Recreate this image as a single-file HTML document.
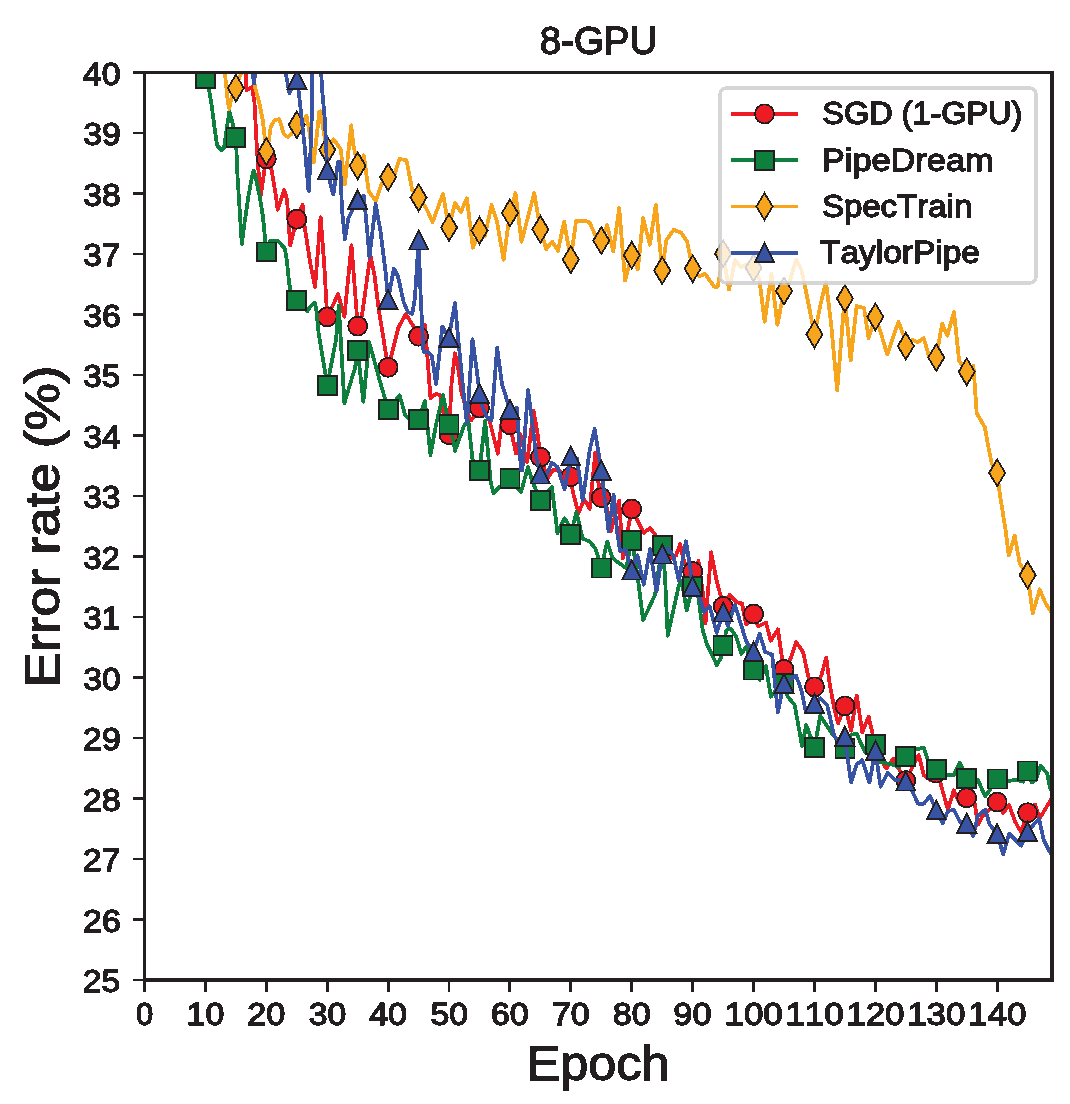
<!DOCTYPE html>
<html><head><meta charset="utf-8"><title>8-GPU</title>
<style>html,body{margin:0;padding:0;background:#fff;}svg{display:block;will-change:transform;}</style></head>
<body>
<svg width="1070" height="1104" viewBox="0 0 1070 1104" font-family="Liberation Sans, sans-serif" style="font-kerning:none" shape-rendering="crispEdges">
<rect width="1070" height="1104" fill="#ffffff"/>
<defs><filter id="al" x="-5%" y="-20%" width="110%" height="140%" color-interpolation-filters="sRGB"><feComponentTransfer><feFuncA type="discrete" tableValues="0 1"/></feComponentTransfer></filter><clipPath id="ax"><rect x="144.5" y="72.45" width="907.5" height="907.55"/></clipPath></defs>
<g clip-path="url(#ax)">
<path d="M245.6,61.3 L246.5,90.2 L252.1,87.0 L254.5,102.4 L256.4,139.8 L258.0,164.9 L260.8,195.7 L264.1,172.3 L266.3,158.9 L271.1,167.7 L275.8,194.8 L277.7,209.7 L284.2,190.1 L287.0,199.4 L290.2,245.2 L296.8,219.2 L302.6,204.6 L304.5,225.6 L310.1,262.1 L315.0,287.3 L320.6,217.2 L324.1,262.1 L327.2,316.9 L338.1,294.3 L344.4,316.7 L351.5,245.2 L357.7,326.1 L362.0,315.3 L370.4,255.0 L374.6,276.1 L378.8,309.7 L388.1,367.3 L391.2,356.1 L398.2,328.0 L405.9,314.0 L413.6,326.6 L418.6,336.2 L424.9,325.2 L427.7,360.3 L430.5,398.1 L436.1,393.9 L440.3,395.3 L444.5,419.2 L449.0,434.6 L451.5,384.1 L455.0,353.3 L458.5,370.1 L461.3,391.1 L466.9,412.2 L471.1,420.6 L479.5,408.0 L489.4,420.0 L497.8,453.6 L502.0,420.0 L509.9,424.8 L516.0,453.6 L520.2,434.0 L521.0,436.1 L526.6,461.3 L527.2,462.1 L533.6,410.8 L537.9,436.1 L540.4,457.1 L547.7,478.1 L553.3,469.7 L558.9,469.7 L564.5,478.1 L570.8,476.7 L572.9,492.2 L578.5,513.2 L584.1,499.2 L589.7,509.0 L595.3,452.9 L598.1,480.9 L601.3,497.6 L606.5,506.2 L610.8,531.4 L619.2,500.6 L622.8,558.1 L631.7,509.0 L636.8,518.9 L643.8,532.9 L650.1,528.0 L655.0,534.3 L662.2,546.0 L671.9,558.1 L676.1,555.3 L680.3,544.1 L683.1,558.1 L685.9,565.1 L692.7,571.5 L698.5,560.9 L704.1,602.1 L705.5,623.1 L711.1,552.3 L716.7,581.0 L720.9,596.5 L723.1,606.4 L729.4,595.0 L736.4,602.1 L742.0,603.5 L746.2,624.5 L753.6,614.0 L758.2,626.6 L765.9,622.4 L770.8,640.7 L777.9,629.4 L782.1,658.9 L784.0,669.4 L790.5,658.9 L796.1,642.1 L803.1,651.9 L808.7,678.5 L814.5,686.9 L821.3,675.7 L826.2,657.5 L829.7,684.1 L833.9,706.5 L838.1,723.4 L844.9,705.9 L851.1,730.7 L856.7,695.6 L862.3,732.1 L868.6,716.6 L872.2,732.1 L875.4,750.0 L877.8,753.1 L886.2,768.5 L893.2,758.7 L900.2,771.3 L905.8,780.5 L912.0,767.9 L918.7,755.1 L923.9,775.3 L929.9,779.8 L936.3,773.0 L940.4,782.8 L947.9,809.7 L953.8,790.3 L959.8,803.7 L966.7,797.8 L974.8,803.7 L977.8,824.7 L983.7,814.2 L989.7,809.7 L997.2,802.0 L1003.2,812.7 L1009.2,805.2 L1015.1,821.7 L1021.1,832.1 L1027.6,812.7 L1035.0,804.5 L1039.5,818.5 L1054.0,794.8" fill="none" stroke="#ed1c24" stroke-width="3.8" stroke-linejoin="round" stroke-linecap="square"/>
<circle cx="266.3" cy="158.9" r="9.50" fill="#ed1c24" stroke="#231f20" stroke-width="1.8"/>
<circle cx="296.8" cy="219.2" r="9.50" fill="#ed1c24" stroke="#231f20" stroke-width="1.8"/>
<circle cx="327.2" cy="316.9" r="9.50" fill="#ed1c24" stroke="#231f20" stroke-width="1.8"/>
<circle cx="357.7" cy="326.1" r="9.50" fill="#ed1c24" stroke="#231f20" stroke-width="1.8"/>
<circle cx="388.1" cy="367.3" r="9.50" fill="#ed1c24" stroke="#231f20" stroke-width="1.8"/>
<circle cx="418.6" cy="336.2" r="9.50" fill="#ed1c24" stroke="#231f20" stroke-width="1.8"/>
<circle cx="449.0" cy="434.6" r="9.50" fill="#ed1c24" stroke="#231f20" stroke-width="1.8"/>
<circle cx="479.5" cy="408.0" r="9.50" fill="#ed1c24" stroke="#231f20" stroke-width="1.8"/>
<circle cx="509.9" cy="424.8" r="9.50" fill="#ed1c24" stroke="#231f20" stroke-width="1.8"/>
<circle cx="540.4" cy="457.1" r="9.50" fill="#ed1c24" stroke="#231f20" stroke-width="1.8"/>
<circle cx="570.8" cy="476.7" r="9.50" fill="#ed1c24" stroke="#231f20" stroke-width="1.8"/>
<circle cx="601.3" cy="497.6" r="9.50" fill="#ed1c24" stroke="#231f20" stroke-width="1.8"/>
<circle cx="631.7" cy="509.0" r="9.50" fill="#ed1c24" stroke="#231f20" stroke-width="1.8"/>
<circle cx="662.2" cy="546.0" r="9.50" fill="#ed1c24" stroke="#231f20" stroke-width="1.8"/>
<circle cx="692.7" cy="571.5" r="9.50" fill="#ed1c24" stroke="#231f20" stroke-width="1.8"/>
<circle cx="723.1" cy="606.4" r="9.50" fill="#ed1c24" stroke="#231f20" stroke-width="1.8"/>
<circle cx="753.6" cy="614.0" r="9.50" fill="#ed1c24" stroke="#231f20" stroke-width="1.8"/>
<circle cx="784.0" cy="669.4" r="9.50" fill="#ed1c24" stroke="#231f20" stroke-width="1.8"/>
<circle cx="814.5" cy="686.9" r="9.50" fill="#ed1c24" stroke="#231f20" stroke-width="1.8"/>
<circle cx="844.9" cy="705.9" r="9.50" fill="#ed1c24" stroke="#231f20" stroke-width="1.8"/>
<circle cx="875.4" cy="750.0" r="9.50" fill="#ed1c24" stroke="#231f20" stroke-width="1.8"/>
<circle cx="905.8" cy="780.5" r="9.50" fill="#ed1c24" stroke="#231f20" stroke-width="1.8"/>
<circle cx="936.3" cy="773.0" r="9.50" fill="#ed1c24" stroke="#231f20" stroke-width="1.8"/>
<circle cx="966.7" cy="797.8" r="9.50" fill="#ed1c24" stroke="#231f20" stroke-width="1.8"/>
<circle cx="997.2" cy="802.0" r="9.50" fill="#ed1c24" stroke="#231f20" stroke-width="1.8"/>
<circle cx="1027.6" cy="812.7" r="9.50" fill="#ed1c24" stroke="#231f20" stroke-width="1.8"/>
<path d="M203.1,59.4 L205.4,78.5 L208.7,87.4 L211.5,104.3 L214.3,125.7 L217.1,145.4 L221.8,150.5 L224.1,147.2 L229.3,111.7 L232.1,121.1 L235.9,137.9 L237.5,176.1 L240.3,220.0 L241.8,243.9 L244.2,225.2 L248.3,196.7 L252.4,174.7 L253.8,170.6 L256.4,180.4 L259.7,196.7 L263.0,217.0 L266.3,251.9 L270.1,241.0 L277.9,240.7 L284.9,248.7 L287.0,262.1 L289.1,283.1 L290.5,290.1 L296.8,300.3 L307.3,311.1 L310.1,306.9 L315.0,302.7 L316.4,311.1 L318.5,332.2 L325.5,374.3 L327.2,385.1 L336.0,340.0 L338.8,305.5 L344.4,403.1 L355.0,368.0 L357.7,350.9 L363.4,401.7 L369.1,342.0 L380.2,382.1 L388.1,409.4 L399.6,395.3 L405.2,415.0 L408.0,417.8 L418.6,419.2 L424.9,400.9 L430.5,455.0 L436.1,424.2 L443.1,395.3 L449.0,424.8 L452.9,438.2 L455.0,450.8 L464.1,425.6 L468.3,420.6 L472.5,459.3 L479.5,470.5 L485.1,420.6 L490.8,483.1 L493.6,492.9 L499.2,487.3 L509.9,478.2 L521.0,492.2 L528.0,466.9 L532.2,480.9 L540.4,500.7 L551.9,486.8 L557.5,533.1 L564.5,518.4 L568.7,524.7 L570.8,534.2 L576.4,512.1 L582.7,538.7 L589.7,541.5 L595.3,548.5 L598.1,556.9 L601.3,568.1 L607.2,541.5 L612.2,556.9 L616.4,561.1 L626.2,568.1 L631.7,540.3 L634.0,552.5 L638.2,581.0 L643.1,620.3 L655.0,595.0 L662.2,545.5 L664.9,574.0 L667.7,635.7 L678.9,585.2 L681.7,581.0 L686.6,610.5 L692.7,586.7 L698.5,597.9 L702.7,630.1 L706.9,644.1 L712.5,655.3 L716.7,665.1 L720.9,658.1 L723.1,645.5 L726.5,630.1 L730.8,628.7 L736.4,637.1 L741.3,653.9 L746.2,646.9 L753.6,670.1 L759.6,679.9 L765.9,665.9 L770.8,696.7 L776.5,689.7 L784.0,683.4 L787.7,696.7 L794.7,705.1 L802.1,746.1 L806.3,725.0 L814.5,747.3 L820.3,715.9 L827.3,726.5 L832.9,734.9 L844.9,748.2 L851.1,734.9 L856.7,733.5 L860.9,743.3 L865.1,751.7 L875.4,744.6 L880.6,762.2 L891.8,764.3 L898.8,767.1 L905.8,756.5 L916.4,749.2 L923.9,747.7 L926.9,757.4 L929.9,764.9 L936.3,769.3 L944.9,775.3 L953.8,775.3 L959.8,762.6 L966.7,778.3 L977.8,779.8 L985.2,796.3 L989.7,790.3 L997.2,779.1 L1007.7,781.3 L1015.1,779.8 L1023.4,781.6 L1027.6,771.1 L1031.6,782.5 L1036.1,779.8 L1040.6,765.6 L1047.3,773.8 L1050.3,788.8 L1054.0,794.8" fill="none" stroke="#0f7f3e" stroke-width="3.8" stroke-linejoin="round" stroke-linecap="square"/>
<rect x="195.9" y="69.0" width="19.0" height="19.0" fill="#0f7f3e" stroke="#231f20" stroke-width="1.8"/>
<rect x="226.4" y="128.4" width="19.0" height="19.0" fill="#0f7f3e" stroke="#231f20" stroke-width="1.8"/>
<rect x="256.8" y="242.4" width="19.0" height="19.0" fill="#0f7f3e" stroke="#231f20" stroke-width="1.8"/>
<rect x="287.3" y="290.8" width="19.0" height="19.0" fill="#0f7f3e" stroke="#231f20" stroke-width="1.8"/>
<rect x="317.7" y="375.6" width="19.0" height="19.0" fill="#0f7f3e" stroke="#231f20" stroke-width="1.8"/>
<rect x="348.2" y="341.4" width="19.0" height="19.0" fill="#0f7f3e" stroke="#231f20" stroke-width="1.8"/>
<rect x="378.6" y="399.9" width="19.0" height="19.0" fill="#0f7f3e" stroke="#231f20" stroke-width="1.8"/>
<rect x="409.1" y="409.7" width="19.0" height="19.0" fill="#0f7f3e" stroke="#231f20" stroke-width="1.8"/>
<rect x="439.5" y="415.3" width="19.0" height="19.0" fill="#0f7f3e" stroke="#231f20" stroke-width="1.8"/>
<rect x="470.0" y="461.0" width="19.0" height="19.0" fill="#0f7f3e" stroke="#231f20" stroke-width="1.8"/>
<rect x="500.4" y="468.7" width="19.0" height="19.0" fill="#0f7f3e" stroke="#231f20" stroke-width="1.8"/>
<rect x="530.9" y="491.2" width="19.0" height="19.0" fill="#0f7f3e" stroke="#231f20" stroke-width="1.8"/>
<rect x="561.3" y="524.7" width="19.0" height="19.0" fill="#0f7f3e" stroke="#231f20" stroke-width="1.8"/>
<rect x="591.8" y="558.6" width="19.0" height="19.0" fill="#0f7f3e" stroke="#231f20" stroke-width="1.8"/>
<rect x="622.2" y="530.8" width="19.0" height="19.0" fill="#0f7f3e" stroke="#231f20" stroke-width="1.8"/>
<rect x="652.7" y="536.0" width="19.0" height="19.0" fill="#0f7f3e" stroke="#231f20" stroke-width="1.8"/>
<rect x="683.2" y="577.2" width="19.0" height="19.0" fill="#0f7f3e" stroke="#231f20" stroke-width="1.8"/>
<rect x="713.6" y="636.0" width="19.0" height="19.0" fill="#0f7f3e" stroke="#231f20" stroke-width="1.8"/>
<rect x="744.1" y="660.6" width="19.0" height="19.0" fill="#0f7f3e" stroke="#231f20" stroke-width="1.8"/>
<rect x="774.5" y="673.9" width="19.0" height="19.0" fill="#0f7f3e" stroke="#231f20" stroke-width="1.8"/>
<rect x="805.0" y="737.8" width="19.0" height="19.0" fill="#0f7f3e" stroke="#231f20" stroke-width="1.8"/>
<rect x="835.4" y="738.7" width="19.0" height="19.0" fill="#0f7f3e" stroke="#231f20" stroke-width="1.8"/>
<rect x="865.9" y="735.1" width="19.0" height="19.0" fill="#0f7f3e" stroke="#231f20" stroke-width="1.8"/>
<rect x="896.3" y="747.0" width="19.0" height="19.0" fill="#0f7f3e" stroke="#231f20" stroke-width="1.8"/>
<rect x="926.8" y="759.8" width="19.0" height="19.0" fill="#0f7f3e" stroke="#231f20" stroke-width="1.8"/>
<rect x="957.2" y="768.8" width="19.0" height="19.0" fill="#0f7f3e" stroke="#231f20" stroke-width="1.8"/>
<rect x="987.7" y="769.6" width="19.0" height="19.0" fill="#0f7f3e" stroke="#231f20" stroke-width="1.8"/>
<rect x="1018.1" y="761.6" width="19.0" height="19.0" fill="#0f7f3e" stroke="#231f20" stroke-width="1.8"/>
<path d="M222.2,53.8 L225.0,73.4 L227.9,102.4 L229.3,108.9 L231.6,96.8 L235.9,88.1 L240.9,73.4 L244.7,53.8 L249.8,61.3 L255.4,88.4 L259.2,102.4 L262.9,121.1 L266.3,151.5 L269.0,139.8 L270.8,126.7 L274.6,120.1 L279.3,119.2 L283.9,134.2 L287.7,137.0 L291.4,134.2 L296.8,124.8 L300.7,128.6 L306.4,115.5 L309.2,130.4 L313.8,162.2 L319.4,111.7 L320.3,111.3 L323.8,132.3 L327.2,149.9 L333.6,139.3 L340.7,149.1 L344.9,184.2 L351.2,125.3 L353.3,144.9 L357.7,165.9 L363.8,155.4 L368.7,191.2 L375.7,201.0 L381.3,184.2 L388.1,177.2 L392.5,181.4 L399.5,158.9 L406.5,160.3 L412.2,189.8 L418.6,197.6 L426.2,208.0 L432.5,222.2 L443.0,193.8 L446.0,211.8 L449.0,227.5 L455.0,202.8 L460.9,211.8 L466.9,198.3 L472.9,247.7 L479.5,230.5 L484.9,235.7 L491.6,205.0 L496.8,220.7 L503.6,259.6 L509.9,213.0 L515.5,193.1 L521.5,241.7 L534.2,193.1 L540.4,229.4 L546.2,249.2 L552.1,241.7 L558.1,250.7 L564.1,221.5 L570.8,259.6 L576.1,220.7 L583.6,220.7 L589.5,222.2 L595.5,235.7 L601.3,240.6 L607.2,225.3 L613.2,251.5 L619.2,208.1 L625.1,280.7 L631.7,255.2 L637.9,269.4 L643.1,217.9 L649.8,244.8 L655.8,205.1 L662.2,270.5 L666.3,240.3 L673.7,229.8 L681.2,232.8 L687.2,241.8 L692.7,268.7 L699.2,276.2 L705.1,273.9 L714.1,286.6 L717.9,286.6 L723.1,253.7 L729.1,289.6 L735.0,259.7 L741.0,267.2 L747.0,264.2 L753.6,267.9 L759.4,279.8 L764.7,321.7 L771.4,273.8 L777.4,324.7 L784.0,291.0 L789.3,282.8 L796.1,259.6 L801.3,269.3 L805.8,290.3 L814.5,334.4 L820.7,303.7 L826.0,282.1 L831.2,324.7 L837.2,390.5 L843.2,315.7 L844.9,298.5 L850.7,360.6 L856.6,306.0 L864.1,308.2 L868.6,338.1 L875.4,316.9 L880.6,332.1 L887.3,354.6 L898.5,321.7 L903.6,335.6 L905.8,346.0 L912.0,339.8 L917.9,342.3 L923.7,338.1 L928.8,355.8 L936.3,357.5 L939.7,337.3 L942.2,323.8 L947.3,335.6 L954.0,312.1 L959.1,360.8 L966.7,371.8 L973.4,365.9 L976.7,413.0 L984.3,426.5 L984.8,427.0 L987.8,443.9 L991.8,463.9 L997.2,472.8 L999.8,493.7 L1005.8,531.6 L1008.8,555.5 L1014.7,535.6 L1019.7,563.5 L1027.6,575.1 L1032.7,613.3 L1039.7,589.4 L1045.6,603.4 L1051.6,612.3" fill="none" stroke="#f7a51c" stroke-width="3.8" stroke-linejoin="round" stroke-linecap="square"/>
<path d="M235.9,74.7 L243.9,88.1 L235.9,101.5 L227.8,88.1 Z" fill="#f7a51c" stroke="#231f20" stroke-width="1.8" stroke-linejoin="miter"/>
<path d="M266.3,138.1 L274.4,151.5 L266.3,164.9 L258.3,151.5 Z" fill="#f7a51c" stroke="#231f20" stroke-width="1.8" stroke-linejoin="miter"/>
<path d="M296.8,111.4 L304.8,124.8 L296.8,138.2 L288.7,124.8 Z" fill="#f7a51c" stroke="#231f20" stroke-width="1.8" stroke-linejoin="miter"/>
<path d="M327.2,136.5 L335.3,149.9 L327.2,163.3 L319.2,149.9 Z" fill="#f7a51c" stroke="#231f20" stroke-width="1.8" stroke-linejoin="miter"/>
<path d="M357.7,152.5 L365.7,165.9 L357.7,179.3 L349.6,165.9 Z" fill="#f7a51c" stroke="#231f20" stroke-width="1.8" stroke-linejoin="miter"/>
<path d="M388.1,163.8 L396.2,177.2 L388.1,190.6 L380.1,177.2 Z" fill="#f7a51c" stroke="#231f20" stroke-width="1.8" stroke-linejoin="miter"/>
<path d="M418.6,184.2 L426.6,197.6 L418.6,211.0 L410.5,197.6 Z" fill="#f7a51c" stroke="#231f20" stroke-width="1.8" stroke-linejoin="miter"/>
<path d="M449.0,214.1 L457.1,227.5 L449.0,240.9 L441.0,227.5 Z" fill="#f7a51c" stroke="#231f20" stroke-width="1.8" stroke-linejoin="miter"/>
<path d="M479.5,217.1 L487.5,230.5 L479.5,243.9 L471.4,230.5 Z" fill="#f7a51c" stroke="#231f20" stroke-width="1.8" stroke-linejoin="miter"/>
<path d="M509.9,199.6 L518.0,213.0 L509.9,226.4 L501.9,213.0 Z" fill="#f7a51c" stroke="#231f20" stroke-width="1.8" stroke-linejoin="miter"/>
<path d="M540.4,216.0 L548.5,229.4 L540.4,242.8 L532.3,229.4 Z" fill="#f7a51c" stroke="#231f20" stroke-width="1.8" stroke-linejoin="miter"/>
<path d="M570.8,246.2 L578.9,259.6 L570.8,273.0 L562.8,259.6 Z" fill="#f7a51c" stroke="#231f20" stroke-width="1.8" stroke-linejoin="miter"/>
<path d="M601.3,227.2 L609.4,240.6 L601.3,254.0 L593.2,240.6 Z" fill="#f7a51c" stroke="#231f20" stroke-width="1.8" stroke-linejoin="miter"/>
<path d="M631.7,241.8 L639.8,255.2 L631.7,268.6 L623.7,255.2 Z" fill="#f7a51c" stroke="#231f20" stroke-width="1.8" stroke-linejoin="miter"/>
<path d="M662.2,257.1 L670.3,270.5 L662.2,283.9 L654.1,270.5 Z" fill="#f7a51c" stroke="#231f20" stroke-width="1.8" stroke-linejoin="miter"/>
<path d="M692.7,255.3 L700.7,268.7 L692.7,282.1 L684.6,268.7 Z" fill="#f7a51c" stroke="#231f20" stroke-width="1.8" stroke-linejoin="miter"/>
<path d="M723.1,240.3 L731.2,253.7 L723.1,267.1 L715.0,253.7 Z" fill="#f7a51c" stroke="#231f20" stroke-width="1.8" stroke-linejoin="miter"/>
<path d="M753.6,254.5 L761.6,267.9 L753.6,281.3 L745.5,267.9 Z" fill="#f7a51c" stroke="#231f20" stroke-width="1.8" stroke-linejoin="miter"/>
<path d="M784.0,277.6 L792.1,291.0 L784.0,304.4 L776.0,291.0 Z" fill="#f7a51c" stroke="#231f20" stroke-width="1.8" stroke-linejoin="miter"/>
<path d="M814.5,321.0 L822.5,334.4 L814.5,347.8 L806.4,334.4 Z" fill="#f7a51c" stroke="#231f20" stroke-width="1.8" stroke-linejoin="miter"/>
<path d="M844.9,285.1 L853.0,298.5 L844.9,311.9 L836.9,298.5 Z" fill="#f7a51c" stroke="#231f20" stroke-width="1.8" stroke-linejoin="miter"/>
<path d="M875.4,303.5 L883.4,316.9 L875.4,330.3 L867.3,316.9 Z" fill="#f7a51c" stroke="#231f20" stroke-width="1.8" stroke-linejoin="miter"/>
<path d="M905.8,332.6 L913.9,346.0 L905.8,359.4 L897.8,346.0 Z" fill="#f7a51c" stroke="#231f20" stroke-width="1.8" stroke-linejoin="miter"/>
<path d="M936.3,344.1 L944.3,357.5 L936.3,370.9 L928.2,357.5 Z" fill="#f7a51c" stroke="#231f20" stroke-width="1.8" stroke-linejoin="miter"/>
<path d="M966.7,358.4 L974.8,371.8 L966.7,385.2 L958.7,371.8 Z" fill="#f7a51c" stroke="#231f20" stroke-width="1.8" stroke-linejoin="miter"/>
<path d="M997.2,459.4 L1005.2,472.8 L997.2,486.2 L989.1,472.8 Z" fill="#f7a51c" stroke="#231f20" stroke-width="1.8" stroke-linejoin="miter"/>
<path d="M1027.6,561.7 L1035.7,575.1 L1027.6,588.5 L1019.6,575.1 Z" fill="#f7a51c" stroke="#231f20" stroke-width="1.8" stroke-linejoin="miter"/>
<path d="M251.2,59.4 L254.0,83.7 L256.8,59.4 L283.0,59.4 L289.5,93.0 L296.8,79.5 L298.9,93.0 L304.8,148.0 L308.4,189.8 L309.0,191.0 L311.8,116.3 L314.2,-49.8 L320.4,59.4 L322.4,93.0 L325.0,121.1 L325.9,142.1 L327.2,170.0 L332.9,194.0 L333.5,194.0 L337.9,163.1 L338.1,162.2 L340.0,161.7 L342.1,211.0 L344.9,239.1 L348.4,218.0 L357.7,199.6 L363.8,195.6 L367.3,232.1 L369.4,257.3 L375.7,204.0 L380.6,232.1 L385.5,271.3 L388.1,299.5 L393.9,268.5 L398.1,276.9 L403.7,302.2 L407.9,312.0 L412.2,313.4 L412.2,314.0 L415.0,297.2 L418.6,240.0 L420.7,297.2 L423.5,351.9 L427.7,351.9 L431.9,356.1 L436.1,384.1 L442.4,326.6 L449.0,337.2 L455.0,302.8 L458.5,342.1 L462.7,384.1 L466.9,423.4 L472.5,339.3 L476.7,370.1 L479.5,393.2 L482.3,406.5 L486.5,416.4 L491.5,420.6 L497.1,347.7 L502.0,384.1 L509.9,409.4 L516.8,408.0 L521.0,469.7 L522.3,470.5 L528.0,389.8 L532.2,422.1 L536.5,458.5 L540.4,473.9 L546.3,475.3 L551.9,462.7 L557.5,466.9 L564.5,489.4 L570.8,455.7 L577.1,458.5 L582.7,500.6 L589.7,450.1 L594.6,429.1 L598.1,450.1 L601.3,470.4 L606.5,513.2 L608.6,531.4 L613.6,495.0 L617.1,531.4 L620.0,551.1 L625.6,549.7 L631.7,570.0 L637.5,555.3 L643.8,584.8 L650.1,549.0 L656.5,591.8 L662.2,554.0 L667.7,548.3 L673.3,555.3 L678.9,580.6 L685.9,541.3 L690.1,566.5 L692.7,586.5 L699.9,597.9 L704.1,611.9 L709.7,606.3 L716.7,632.9 L723.1,612.0 L727.9,625.9 L735.0,604.9 L740.6,623.1 L746.2,641.3 L753.6,651.8 L759.6,633.6 L765.2,651.9 L772.2,654.7 L775.0,684.1 L777.9,712.2 L782.1,691.1 L784.0,683.4 L796.1,675.7 L801.7,691.1 L805.9,712.2 L814.5,703.5 L820.3,698.4 L827.3,705.4 L834.3,736.3 L838.5,740.5 L844.9,736.2 L846.9,753.1 L851.1,782.5 L856.7,764.3 L862.3,760.1 L869.4,782.5 L875.4,750.3 L880.6,786.7 L887.6,772.7 L894.6,779.7 L905.8,781.0 L912.0,790.3 L917.9,803.7 L923.9,803.7 L929.9,796.3 L936.3,809.7 L942.6,823.2 L947.9,811.2 L953.8,809.7 L959.8,821.7 L966.7,823.2 L973.3,835.9 L977.8,815.7 L985.2,809.7 L989.7,824.7 L997.2,833.6 L1003.2,854.6 L1009.2,833.6 L1015.1,839.6 L1021.1,845.6 L1027.6,831.4 L1039.1,818.7 L1043.6,839.6 L1049.5,851.6 L1054.0,857.6" fill="none" stroke="#3953a4" stroke-width="3.8" stroke-linejoin="round" stroke-linecap="square"/>
<path d="M296.8,70.0 L306.3,89.0 L287.3,89.0 Z" fill="#3953a4" stroke="#231f20" stroke-width="1.8" stroke-linejoin="miter"/>
<path d="M327.2,160.5 L336.7,179.5 L317.7,179.5 Z" fill="#3953a4" stroke="#231f20" stroke-width="1.8" stroke-linejoin="miter"/>
<path d="M357.7,190.1 L367.2,209.1 L348.2,209.1 Z" fill="#3953a4" stroke="#231f20" stroke-width="1.8" stroke-linejoin="miter"/>
<path d="M388.1,290.0 L397.6,309.0 L378.6,309.0 Z" fill="#3953a4" stroke="#231f20" stroke-width="1.8" stroke-linejoin="miter"/>
<path d="M418.6,230.5 L428.1,249.5 L409.1,249.5 Z" fill="#3953a4" stroke="#231f20" stroke-width="1.8" stroke-linejoin="miter"/>
<path d="M449.0,327.7 L458.5,346.7 L439.5,346.7 Z" fill="#3953a4" stroke="#231f20" stroke-width="1.8" stroke-linejoin="miter"/>
<path d="M479.5,383.7 L489.0,402.7 L470.0,402.7 Z" fill="#3953a4" stroke="#231f20" stroke-width="1.8" stroke-linejoin="miter"/>
<path d="M509.9,399.9 L519.4,418.9 L500.4,418.9 Z" fill="#3953a4" stroke="#231f20" stroke-width="1.8" stroke-linejoin="miter"/>
<path d="M540.4,464.4 L549.9,483.4 L530.9,483.4 Z" fill="#3953a4" stroke="#231f20" stroke-width="1.8" stroke-linejoin="miter"/>
<path d="M570.8,446.2 L580.3,465.2 L561.3,465.2 Z" fill="#3953a4" stroke="#231f20" stroke-width="1.8" stroke-linejoin="miter"/>
<path d="M601.3,460.9 L610.8,479.9 L591.8,479.9 Z" fill="#3953a4" stroke="#231f20" stroke-width="1.8" stroke-linejoin="miter"/>
<path d="M631.7,560.5 L641.2,579.5 L622.2,579.5 Z" fill="#3953a4" stroke="#231f20" stroke-width="1.8" stroke-linejoin="miter"/>
<path d="M662.2,544.5 L671.7,563.5 L652.7,563.5 Z" fill="#3953a4" stroke="#231f20" stroke-width="1.8" stroke-linejoin="miter"/>
<path d="M692.7,577.0 L702.2,596.0 L683.2,596.0 Z" fill="#3953a4" stroke="#231f20" stroke-width="1.8" stroke-linejoin="miter"/>
<path d="M723.1,602.5 L732.6,621.5 L713.6,621.5 Z" fill="#3953a4" stroke="#231f20" stroke-width="1.8" stroke-linejoin="miter"/>
<path d="M753.6,642.3 L763.1,661.3 L744.1,661.3 Z" fill="#3953a4" stroke="#231f20" stroke-width="1.8" stroke-linejoin="miter"/>
<path d="M784.0,673.9 L793.5,692.9 L774.5,692.9 Z" fill="#3953a4" stroke="#231f20" stroke-width="1.8" stroke-linejoin="miter"/>
<path d="M814.5,694.0 L824.0,713.0 L805.0,713.0 Z" fill="#3953a4" stroke="#231f20" stroke-width="1.8" stroke-linejoin="miter"/>
<path d="M844.9,726.7 L854.4,745.7 L835.4,745.7 Z" fill="#3953a4" stroke="#231f20" stroke-width="1.8" stroke-linejoin="miter"/>
<path d="M875.4,740.8 L884.9,759.8 L865.9,759.8 Z" fill="#3953a4" stroke="#231f20" stroke-width="1.8" stroke-linejoin="miter"/>
<path d="M905.8,771.5 L915.3,790.5 L896.3,790.5 Z" fill="#3953a4" stroke="#231f20" stroke-width="1.8" stroke-linejoin="miter"/>
<path d="M936.3,800.2 L945.8,819.2 L926.8,819.2 Z" fill="#3953a4" stroke="#231f20" stroke-width="1.8" stroke-linejoin="miter"/>
<path d="M966.7,813.7 L976.2,832.7 L957.2,832.7 Z" fill="#3953a4" stroke="#231f20" stroke-width="1.8" stroke-linejoin="miter"/>
<path d="M997.2,824.1 L1006.7,843.1 L987.7,843.1 Z" fill="#3953a4" stroke="#231f20" stroke-width="1.8" stroke-linejoin="miter"/>
<path d="M1027.6,821.9 L1037.1,840.9 L1018.1,840.9 Z" fill="#3953a4" stroke="#231f20" stroke-width="1.8" stroke-linejoin="miter"/>
</g>
<path d="M144.5,71.0 L144.5,981.8" stroke="#231f20" stroke-width="2.9" fill="none"/>
<path d="M143.05,72.45 L1053.8,72.45" stroke="#231f20" stroke-width="2.9" fill="none"/>
<path d="M1052.0,71.0 L1052.0,981.8" stroke="#231f20" stroke-width="3.6" fill="none"/>
<path d="M143.05,980.0 L1053.8,980.0" stroke="#231f20" stroke-width="3.6" fill="none"/>
<line x1="132.5" y1="980.00" x2="144.5" y2="980.00" stroke="#231f20" stroke-width="2.9"/>
<text x="82.71" y="992.14" font-size="31.98" textLength="37.39" lengthAdjust="spacingAndGlyphs" fill="#231f20" stroke="#231f20" stroke-width="1.4" filter="url(#al)">25</text>
<line x1="132.5" y1="919.50" x2="144.5" y2="919.50" stroke="#231f20" stroke-width="2.9"/>
<text x="82.67" y="931.64" font-size="31.98" textLength="38.32" lengthAdjust="spacingAndGlyphs" fill="#231f20" stroke="#231f20" stroke-width="1.4" filter="url(#al)">26</text>
<line x1="132.5" y1="858.99" x2="144.5" y2="858.99" stroke="#231f20" stroke-width="2.9"/>
<text x="82.70" y="871.13" font-size="31.98" textLength="37.77" lengthAdjust="spacingAndGlyphs" fill="#231f20" stroke="#231f20" stroke-width="1.4" filter="url(#al)">27</text>
<line x1="132.5" y1="798.49" x2="144.5" y2="798.49" stroke="#231f20" stroke-width="2.9"/>
<text x="82.68" y="810.63" font-size="31.98" textLength="38.11" lengthAdjust="spacingAndGlyphs" fill="#231f20" stroke="#231f20" stroke-width="1.4" filter="url(#al)">28</text>
<line x1="132.5" y1="737.99" x2="144.5" y2="737.99" stroke="#231f20" stroke-width="2.9"/>
<text x="82.68" y="750.13" font-size="31.98" textLength="38.19" lengthAdjust="spacingAndGlyphs" fill="#231f20" stroke="#231f20" stroke-width="1.4" filter="url(#al)">29</text>
<line x1="132.5" y1="677.48" x2="144.5" y2="677.48" stroke="#231f20" stroke-width="2.9"/>
<text x="83.22" y="689.62" font-size="31.98" textLength="37.47" lengthAdjust="spacingAndGlyphs" fill="#231f20" stroke="#231f20" stroke-width="1.4" filter="url(#al)">30</text>
<line x1="132.5" y1="616.98" x2="144.5" y2="616.98" stroke="#231f20" stroke-width="2.9"/>
<text x="83.23" y="629.12" font-size="31.98" textLength="36.92" lengthAdjust="spacingAndGlyphs" fill="#231f20" stroke="#231f20" stroke-width="1.4" filter="url(#al)">31</text>
<line x1="132.5" y1="556.48" x2="144.5" y2="556.48" stroke="#231f20" stroke-width="2.9"/>
<text x="83.24" y="568.62" font-size="31.98" textLength="36.70" lengthAdjust="spacingAndGlyphs" fill="#231f20" stroke="#231f20" stroke-width="1.4" filter="url(#al)">32</text>
<line x1="132.5" y1="495.97" x2="144.5" y2="495.97" stroke="#231f20" stroke-width="2.9"/>
<text x="83.23" y="508.11" font-size="31.98" textLength="37.17" lengthAdjust="spacingAndGlyphs" fill="#231f20" stroke="#231f20" stroke-width="1.4" filter="url(#al)">33</text>
<line x1="132.5" y1="435.47" x2="144.5" y2="435.47" stroke="#231f20" stroke-width="2.9"/>
<text x="83.22" y="447.61" font-size="31.98" textLength="37.47" lengthAdjust="spacingAndGlyphs" fill="#231f20" stroke="#231f20" stroke-width="1.4" filter="url(#al)">34</text>
<line x1="132.5" y1="374.97" x2="144.5" y2="374.97" stroke="#231f20" stroke-width="2.9"/>
<text x="83.24" y="387.11" font-size="31.98" textLength="36.85" lengthAdjust="spacingAndGlyphs" fill="#231f20" stroke="#231f20" stroke-width="1.4" filter="url(#al)">35</text>
<line x1="132.5" y1="314.46" x2="144.5" y2="314.46" stroke="#231f20" stroke-width="2.9"/>
<text x="83.21" y="326.60" font-size="31.98" textLength="37.76" lengthAdjust="spacingAndGlyphs" fill="#231f20" stroke="#231f20" stroke-width="1.4" filter="url(#al)">36</text>
<line x1="132.5" y1="253.96" x2="144.5" y2="253.96" stroke="#231f20" stroke-width="2.9"/>
<text x="83.22" y="266.10" font-size="31.98" textLength="37.21" lengthAdjust="spacingAndGlyphs" fill="#231f20" stroke="#231f20" stroke-width="1.4" filter="url(#al)">37</text>
<line x1="132.5" y1="193.46" x2="144.5" y2="193.46" stroke="#231f20" stroke-width="2.9"/>
<text x="83.21" y="205.60" font-size="31.98" textLength="37.56" lengthAdjust="spacingAndGlyphs" fill="#231f20" stroke="#231f20" stroke-width="1.4" filter="url(#al)">38</text>
<line x1="132.5" y1="132.95" x2="144.5" y2="132.95" stroke="#231f20" stroke-width="2.9"/>
<text x="83.21" y="145.09" font-size="31.98" textLength="37.64" lengthAdjust="spacingAndGlyphs" fill="#231f20" stroke="#231f20" stroke-width="1.4" filter="url(#al)">39</text>
<line x1="132.5" y1="72.45" x2="144.5" y2="72.45" stroke="#231f20" stroke-width="2.9"/>
<text x="82.84" y="84.59" font-size="31.98" textLength="37.86" lengthAdjust="spacingAndGlyphs" fill="#231f20" stroke="#231f20" stroke-width="1.4" filter="url(#al)">40</text>
<line x1="144.50" y1="980.0" x2="144.50" y2="992" stroke="#231f20" stroke-width="2.9"/>
<text x="135.90" y="1025.34" font-size="31.98" textLength="17.19" lengthAdjust="spacingAndGlyphs" fill="#231f20" stroke="#231f20" stroke-width="1.4" filter="url(#al)">0</text>
<line x1="205.41" y1="980.0" x2="205.41" y2="992" stroke="#231f20" stroke-width="2.9"/>
<text x="186.63" y="1025.34" font-size="31.98" textLength="37.69" lengthAdjust="spacingAndGlyphs" fill="#231f20" stroke="#231f20" stroke-width="1.4" filter="url(#al)">10</text>
<line x1="266.31" y1="980.0" x2="266.31" y2="992" stroke="#231f20" stroke-width="2.9"/>
<text x="247.22" y="1025.34" font-size="31.98" textLength="38.02" lengthAdjust="spacingAndGlyphs" fill="#231f20" stroke="#231f20" stroke-width="1.4" filter="url(#al)">20</text>
<line x1="327.22" y1="980.0" x2="327.22" y2="992" stroke="#231f20" stroke-width="2.9"/>
<text x="308.66" y="1025.34" font-size="31.98" textLength="37.47" lengthAdjust="spacingAndGlyphs" fill="#231f20" stroke="#231f20" stroke-width="1.4" filter="url(#al)">30</text>
<line x1="388.12" y1="980.0" x2="388.12" y2="992" stroke="#231f20" stroke-width="2.9"/>
<text x="369.19" y="1025.34" font-size="31.98" textLength="37.86" lengthAdjust="spacingAndGlyphs" fill="#231f20" stroke="#231f20" stroke-width="1.4" filter="url(#al)">40</text>
<line x1="449.03" y1="980.0" x2="449.03" y2="992" stroke="#231f20" stroke-width="2.9"/>
<text x="430.43" y="1025.34" font-size="31.98" textLength="37.51" lengthAdjust="spacingAndGlyphs" fill="#231f20" stroke="#231f20" stroke-width="1.4" filter="url(#al)">50</text>
<line x1="509.94" y1="980.0" x2="509.94" y2="992" stroke="#231f20" stroke-width="2.9"/>
<text x="490.71" y="1025.34" font-size="31.98" textLength="38.15" lengthAdjust="spacingAndGlyphs" fill="#231f20" stroke="#231f20" stroke-width="1.4" filter="url(#al)">60</text>
<line x1="570.84" y1="980.0" x2="570.84" y2="992" stroke="#231f20" stroke-width="2.9"/>
<text x="552.01" y="1025.34" font-size="31.98" textLength="37.75" lengthAdjust="spacingAndGlyphs" fill="#231f20" stroke="#231f20" stroke-width="1.4" filter="url(#al)">70</text>
<line x1="631.75" y1="980.0" x2="631.75" y2="992" stroke="#231f20" stroke-width="2.9"/>
<text x="612.72" y="1025.34" font-size="31.98" textLength="37.95" lengthAdjust="spacingAndGlyphs" fill="#231f20" stroke="#231f20" stroke-width="1.4" filter="url(#al)">80</text>
<line x1="692.65" y1="980.0" x2="692.65" y2="992" stroke="#231f20" stroke-width="2.9"/>
<text x="673.34" y="1025.34" font-size="31.98" textLength="38.25" lengthAdjust="spacingAndGlyphs" fill="#231f20" stroke="#231f20" stroke-width="1.4" filter="url(#al)">90</text>
<line x1="753.56" y1="980.0" x2="753.56" y2="992" stroke="#231f20" stroke-width="2.9"/>
<text x="724.49" y="1025.34" font-size="31.98" textLength="58.23" lengthAdjust="spacingAndGlyphs" fill="#231f20" stroke="#231f20" stroke-width="1.4" filter="url(#al)">100</text>
<line x1="814.47" y1="980.0" x2="814.47" y2="992" stroke="#231f20" stroke-width="2.9"/>
<text x="785.40" y="1025.34" font-size="31.98" textLength="58.23" lengthAdjust="spacingAndGlyphs" fill="#231f20" stroke="#231f20" stroke-width="1.4" filter="url(#al)">110</text>
<line x1="875.37" y1="980.0" x2="875.37" y2="992" stroke="#231f20" stroke-width="2.9"/>
<text x="846.31" y="1025.34" font-size="31.98" textLength="58.23" lengthAdjust="spacingAndGlyphs" fill="#231f20" stroke="#231f20" stroke-width="1.4" filter="url(#al)">120</text>
<line x1="936.28" y1="980.0" x2="936.28" y2="992" stroke="#231f20" stroke-width="2.9"/>
<text x="907.21" y="1025.34" font-size="31.98" textLength="58.23" lengthAdjust="spacingAndGlyphs" fill="#231f20" stroke="#231f20" stroke-width="1.4" filter="url(#al)">130</text>
<line x1="997.18" y1="980.0" x2="997.18" y2="992" stroke="#231f20" stroke-width="2.9"/>
<text x="968.12" y="1025.34" font-size="31.98" textLength="58.23" lengthAdjust="spacingAndGlyphs" fill="#231f20" stroke="#231f20" stroke-width="1.4" filter="url(#al)">140</text>
<text x="539.79" y="53.94" font-size="38.97" textLength="117.48" lengthAdjust="spacingAndGlyphs" fill="#231f20" stroke="#231f20" stroke-width="1.4" filter="url(#al)">8-GPU</text>
<text x="526.76" y="1080.24" font-size="48.30" textLength="142.75" lengthAdjust="spacingAndGlyphs" fill="#231f20" stroke="#231f20" stroke-width="1.4" filter="url(#al)">Epoch</text>
<g transform="rotate(-90)"><text x="-687.46" y="59.34" font-size="48.30" textLength="321.96" lengthAdjust="spacingAndGlyphs" fill="#231f20" stroke="#231f20" stroke-width="1.4" filter="url(#al)">Error rate (%)</text></g>
<rect x="720" y="88" width="316" height="195" rx="6.4" ry="6.4" fill="#ffffff" fill-opacity="0.8" stroke="#cccccc" stroke-opacity="0.8" stroke-width="3.4"/>
<line x1="731" y1="113.9" x2="798" y2="113.9" stroke="#ed1c24" stroke-width="3.8"/>
<circle cx="764.5" cy="113.9" r="9.50" fill="#ed1c24" stroke="#231f20" stroke-width="1.8"/>
<text x="822.33" y="124.34" font-size="31.98" textLength="199.98" lengthAdjust="spacingAndGlyphs" fill="#231f20" stroke="#231f20" stroke-width="1.4" filter="url(#al)">SGD (1-GPU)</text>
<line x1="731" y1="160.2" x2="798" y2="160.2" stroke="#0f7f3e" stroke-width="3.8"/>
<rect x="755.0" y="150.7" width="19.0" height="19.0" fill="#0f7f3e" stroke="#231f20" stroke-width="1.8"/>
<text x="821.88" y="170.64" font-size="31.98" textLength="171.68" lengthAdjust="spacingAndGlyphs" fill="#231f20" stroke="#231f20" stroke-width="1.4" filter="url(#al)">PipeDream</text>
<line x1="731" y1="206.5" x2="798" y2="206.5" stroke="#f7a51c" stroke-width="3.8"/>
<path d="M764.5,193.1 L772.6,206.5 L764.5,219.9 L756.4,206.5 Z" fill="#f7a51c" stroke="#231f20" stroke-width="1.8" stroke-linejoin="miter"/>
<text x="821.90" y="216.94" font-size="31.98" textLength="150.34" lengthAdjust="spacingAndGlyphs" fill="#231f20" stroke="#231f20" stroke-width="1.4" filter="url(#al)">SpecTrain</text>
<line x1="731" y1="252.8" x2="798" y2="252.8" stroke="#3953a4" stroke-width="3.8"/>
<path d="M764.5,243.3 L774.0,262.3 L755.0,262.3 Z" fill="#3953a4" stroke="#231f20" stroke-width="1.8" stroke-linejoin="miter"/>
<text x="819.95" y="263.24" font-size="31.98" textLength="159.94" lengthAdjust="spacingAndGlyphs" fill="#231f20" stroke="#231f20" stroke-width="1.4" filter="url(#al)">TaylorPipe</text>
</svg>
</body></html>
